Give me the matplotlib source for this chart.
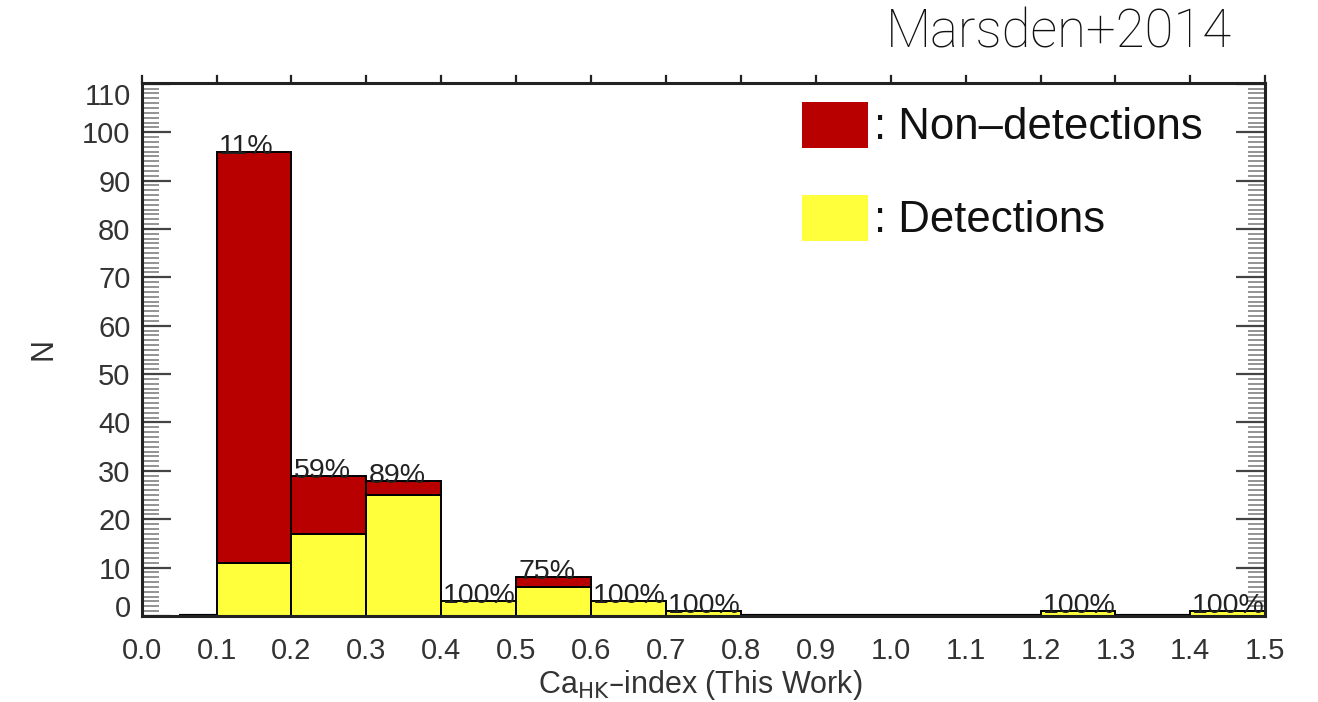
import matplotlib
matplotlib.use("Agg")
import matplotlib.pyplot as plt
from matplotlib.patches import Rectangle
from matplotlib.ticker import MultipleLocator
import matplotlib.transforms as mtrans

# Histogram of Ca_HK-index, split into detections / non-detections
bin_left = [0.1, 0.2, 0.3, 0.4, 0.5, 0.6, 0.7, 0.8, 0.9, 1.0, 1.1, 1.2, 1.3, 1.4]
totals = [96, 29, 28, 3, 8, 3, 1, 0, 0, 0, 0, 1, 0, 1]
detections = [11, 17, 25, 3, 6, 3, 1, 0, 0, 0, 0, 1, 0, 1]
bin_width = 0.1

x_ticks = [round(0.1 * i, 1) for i in range(16)]
y_ticks = list(range(0, 111, 10))

red = "#B80000"
yellow = "#FFFF3C"
font = ["Liberation Sans", "DejaVu Sans"]

fig = plt.figure(figsize=(13.18, 7.02), dpi=100)
ax = fig.add_axes([0.1075, 0.1225, 0.8525, 0.7595])
ax.set_xlim(0.0, 1.5)
ax.set_ylim(0, 110.2)

# baseline of the histogram outline
ax.plot([0.05, 1.5], [0, 0], color="black", lw=3, zorder=1, solid_capstyle="butt")

non_det = [t - d for t, d in zip(totals, detections)]
for xl, t, d, n in zip(bin_left, totals, detections, non_det):
    if t == 0:
        continue
    ax.bar(xl, d, width=bin_width, align="edge", color=yellow,
           edgecolor="black", linewidth=1.4, zorder=2)
    if n > 0:
        ax.bar(xl, n, bottom=d, width=bin_width, align="edge", color=red,
               edgecolor="black", linewidth=1.4, zorder=2)
    pct = round(100.0 * d / t)
    ax.text(xl, t, f"{pct}%", ha="left", va="baseline", fontsize=20.5,
            family=font, color="#222222", zorder=3,
            transform=ax.transData + mtrans.ScaledTranslation(2 / 100, -2 / 100, fig.dpi_scale_trans))

# axes styling
for s in ax.spines.values():
    s.set_linewidth(2.2)
    s.set_color("#222222")

ax.set_xticks(x_ticks)
ax.set_xticklabels([f"{v:.1f}" for v in x_ticks])
ax.set_yticks(y_ticks)
ax.set_yticklabels([str(v) for v in y_ticks])
ax.yaxis.set_minor_locator(MultipleLocator(1))
ax.tick_params(axis="x", which="major", direction="out", length=0, pad=15,
               labelsize=21, labelcolor="#333333")
ax.tick_params(axis="y", which="major", direction="in", length=21, width=1.6,
               labelsize=21, labelcolor="#333333", right=True, pad=8, color="#444444")
ax.tick_params(axis="y", which="minor", direction="in", length=12, width=1.2,
               right=True, color="#808080")
for lab in ax.get_xticklabels() + ax.get_yticklabels():
    lab.set_family(font)

# short outward ticks along the top edge
for xv in x_ticks:
    ax.plot([xv, xv], [1.0, 1.012], transform=ax.get_xaxis_transform(),
            color="#222222", lw=1.6, clip_on=False)

# shift end labels of the y axis inward
ylabs = ax.get_yticklabels()
ylabs[0].set_transform(ylabs[0].get_transform() + mtrans.ScaledTranslation(0, 0.10, fig.dpi_scale_trans))
ylabs[-1].set_transform(ylabs[-1].get_transform() + mtrans.ScaledTranslation(0, -0.10, fig.dpi_scale_trans))

ax.set_xlabel(r"Ca$_{\mathrm{HK}}$–index (This Work)", fontsize=22, family=font,
              color="#333333")
ax.xaxis.set_label_coords(0.497, -0.098)
ax.set_ylabel("N", fontsize=22, family=font, color="#333333")
ax.yaxis.set_label_coords(-0.074, 0.5)

# legend
leg_items = [(red, ": Non–detections", 0.921), (yellow, ": Detections", 0.746)]
for col, txt, yc in leg_items:
    ax.add_patch(Rectangle((0.588, yc - 0.043), 0.0587, 0.086, transform=ax.transAxes,
                           facecolor=col, edgecolor="none", zorder=4))
    ax.text(0.652, yc - 0.004, txt, transform=ax.transAxes, fontsize=31.5, family=font,
            va="center", ha="left", color="#111111", zorder=4)

fig.text(0.935, 0.953, "Marsden+2014", fontsize=38, family=["Roboto", "DejaVu Sans"],
         fontweight="light", ha="right", va="center", color="#111111")

fig.savefig("out.png", dpi=100)
